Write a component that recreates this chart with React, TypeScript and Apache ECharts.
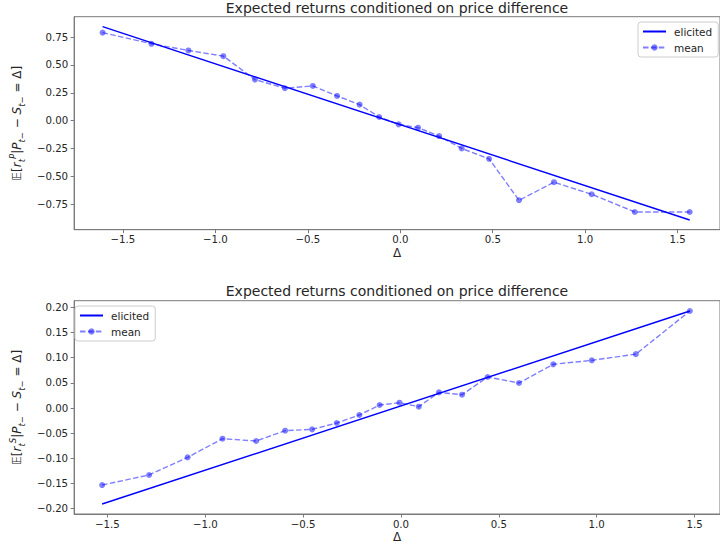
import React, { useEffect, useRef } from "react";
import * as echarts from "echarts";

// ---- data ----
const topX = [-1.61, -1.346, -1.146, -0.957, -0.786, -0.624, -0.473, -0.342, -0.22, -0.114, -0.009, 0.096, 0.21, 0.332, 0.48, 0.642, 0.831, 1.035, 1.268, 1.565];
const topMean = [0.79, 0.69, 0.63, 0.579, 0.369, 0.291, 0.312, 0.222, 0.144, 0.033, -0.033, -0.063, -0.138, -0.249, -0.342, -0.714, -0.552, -0.66, -0.819, -0.819];
const topElicitedX = [-1.61, 1.565];
const topElicitedY = [0.844, -0.891];

const botX = [-1.527, -1.287, -1.09, -0.912, -0.74, -0.592, -0.454, -0.328, -0.213, -0.109, -0.008, 0.091, 0.194, 0.312, 0.443, 0.603, 0.778, 0.975, 1.2, 1.476];
const botMean = [-0.153, -0.133, -0.098, -0.061, -0.0655, -0.045, -0.0424, -0.0298, -0.0139, 0.006, 0.0105, 0.0026, 0.031, 0.0264, 0.0616, 0.0497, 0.0868, 0.0947, 0.107, 0.1926];
const botElicitedX = [-1.527, 1.476];
const botElicitedY = [-0.1907, 0.1926];

const topXTicks = [-1.5, -1.0, -0.5, 0.0, 0.5, 1.0, 1.5];
const topYTicks = [-0.75, -0.5, -0.25, 0.0, 0.25, 0.5, 0.75];
const botXTicks = [-1.5, -1.0, -0.5, 0.0, 0.5, 1.0, 1.5];
const botYTicks = [-0.2, -0.15, -0.1, -0.05, 0.0, 0.05, 0.1, 0.15, 0.2];

const titleText = "Expected returns conditioned on price difference";
const seriesNames = ["elicited", "mean"];

const FONT = "DejaVu Sans";
const TXT = "#262626";
const SPINE = "#7a7a7a";
const BLUE = "#0000ff";
const MEAN = "rgba(0,0,255,0.5)";

const fmt = (d: number) => (v: number) => {
  const s = Math.abs(v).toFixed(d);
  return (v < -1e-9 ? "\u2212" : "") + s;
};

const pairs = (xs: number[], ys: number[]) => xs.map((x, i) => [x, ys[i]]);

function yName(sup: string) {
  return `{n|\u{1D53C}[}{i|r}{sub|t}{sup|${sup}}{n||}{i|P}{sub|t\u2212}{n| \u2212 }{i|S}{sub|t\u2212}{n| = \u0394]}`;
}

const nameRich = {
  n: { fontFamily: FONT, fontSize: 12, color: TXT, lineHeight: 18, verticalAlign: "middle" },
  i: { fontFamily: FONT, fontSize: 12, fontStyle: "italic", color: TXT, lineHeight: 18, verticalAlign: "middle" },
  sub: { fontFamily: FONT, fontSize: 8.5, fontStyle: "italic", color: TXT, lineHeight: 9, verticalAlign: "bottom" },
  sup: { fontFamily: FONT, fontSize: 8.5, fontStyle: "italic", color: TXT, lineHeight: 9, verticalAlign: "top" },
};

function xAxisCfg(gridIndex: number, min: number, max: number, ticks: number[]) {
  return {
    type: "value",
    gridIndex,
    min,
    max,
    name: "\u0394",
    nameLocation: "middle",
    nameGap: 17,
    nameTextStyle: { fontFamily: FONT, fontSize: 12, color: TXT },
    axisLine: { show: true, onZero: false, lineStyle: { color: SPINE, width: 1 } },
    axisTick: { show: true, length: 3.5, customValues: ticks, lineStyle: { color: SPINE } },
    axisLabel: { show: true, customValues: ticks, formatter: fmt(1), fontFamily: FONT, fontSize: 10.2, color: TXT, margin: 5 },
    splitLine: { show: false },
  };
}

function yAxisCfg(gridIndex: number, min: number, max: number, ticks: number[], sup: string) {
  return {
    type: "value",
    gridIndex,
    min,
    max,
    name: yName(sup),
    nameLocation: "middle",
    nameRotate: 90,
    nameGap: 41,
    nameTextStyle: { rich: nameRich },
    axisLine: { show: true, onZero: false, lineStyle: { color: SPINE, width: 1 } },
    axisTick: { show: true, length: 3.5, customValues: ticks, lineStyle: { color: SPINE } },
    axisLabel: { show: true, customValues: ticks, formatter: fmt(2), fontFamily: FONT, fontSize: 10.2, color: TXT, margin: 6 },
    splitLine: { show: false },
  };
}

function seriesFor(axisIndex: number, ex: number[], ey: number[], mx: number[], my: number[]) {
  return [
    {
      name: seriesNames[0],
      type: "line",
      xAxisIndex: axisIndex,
      yAxisIndex: axisIndex,
      data: pairs(ex, ey),
      showSymbol: false,
      symbol: "none",
      lineStyle: { color: BLUE, width: 1.4 },
      itemStyle: { color: BLUE },
      z: 2,
    },
    {
      name: seriesNames[1],
      type: "line",
      xAxisIndex: axisIndex,
      yAxisIndex: axisIndex,
      data: pairs(mx, my),
      symbol: "circle",
      symbolSize: 6,
      showSymbol: true,
      lineStyle: { color: MEAN, width: 1.4, type: [5.5, 2.4] },
      itemStyle: { color: MEAN, borderWidth: 0 },
      z: 3,
    },
  ];
}

function legendCfg(left: number, top: number) {
  return {
    orient: "vertical",
    left,
    top,
    data: [{ name: seriesNames[0], itemStyle: { opacity: 0 } }, { name: seriesNames[1] }],
    itemWidth: 23,
    itemHeight: 8,
    itemGap: 5,
    padding: [4, 6, 4, 4],
    backgroundColor: "rgba(255,255,255,0.8)",
    borderColor: "#cccccc",
    borderWidth: 1,
    borderRadius: 3,
    textStyle: { fontFamily: FONT, fontSize: 10.5, color: TXT, padding: [0, 0, 0, 3] },
    selectedMode: false,
  };
}

export default function App() {
  const ref = useRef<HTMLDivElement>(null);
  useEffect(() => {
    if (!ref.current) return;
    const chart = echarts.init(ref.current, undefined, { renderer: "svg" });
    chart.setOption({
      animation: false,
      backgroundColor: "#ffffff",
      title: [
        { text: titleText, left: 397, top: 0, textAlign: "center", padding: 0, textStyle: { fontFamily: FONT, fontSize: 14, fontWeight: "normal", color: TXT, lineHeight: 16 } },
        { text: titleText, left: 397, top: 283, textAlign: "center", padding: 0, textStyle: { fontFamily: FONT, fontSize: 14, fontWeight: "normal", color: TXT, lineHeight: 16 } },
      ],
      legend: [legendCfg(638, 22), legendCfg(75, 306)],
      grid: [
        { left: 70.5, top: 16.7, width: 654.5, height: 213, show: true, borderColor: SPINE, borderWidth: 1, backgroundColor: "transparent", containLabel: false },
        { left: 71, top: 300.7, width: 653.8, height: 213.3, show: true, borderColor: SPINE, borderWidth: 1, backgroundColor: "transparent", containLabel: false },
      ],
      xAxis: [xAxisCfg(0, -1.764, 1.729, topXTicks), xAxisCfg(1, -1.67, 1.63, botXTicks)],
      yAxis: [yAxisCfg(0, -0.978, 0.933, topYTicks, "P"), yAxisCfg(1, -0.2105, 0.2131, botYTicks, "S")],
      series: [
        ...seriesFor(0, topElicitedX, topElicitedY, topX, topMean),
        ...seriesFor(1, botElicitedX, botElicitedY, botX, botMean),
      ],
    });
    return () => chart.dispose();
  }, []);
  return <div ref={ref} style={{ position: "fixed", left: 0, top: 0, width: 720, height: 549 }} />;
}
